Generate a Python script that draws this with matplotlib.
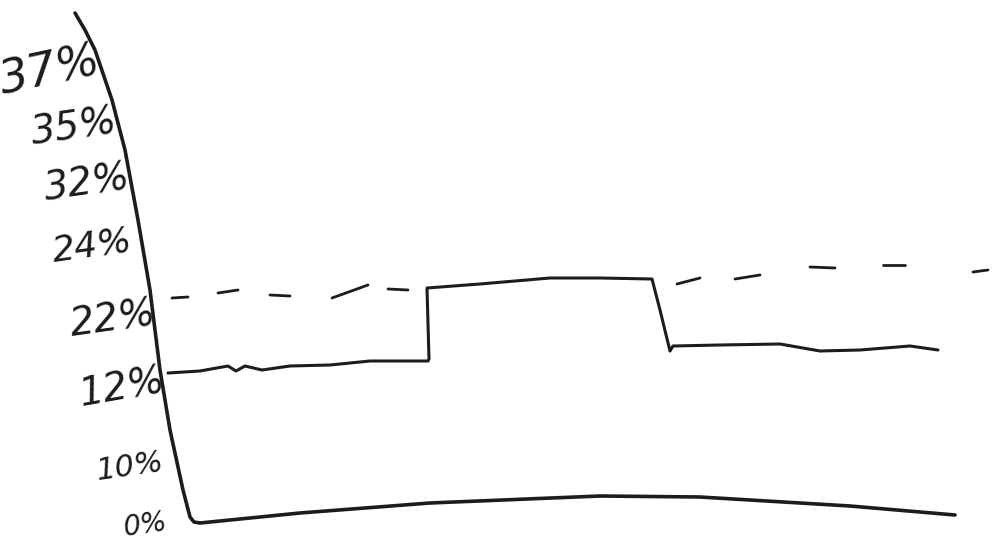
import matplotlib
matplotlib.use("Agg")
import matplotlib.pyplot as plt

# everything, in its own pixel coordinates
axis_x = [75, 85, 95, 112, 125, 138, 150, 160, 170, 183, 190, 194, 200, 300, 430, 600, 700, 850, 955]
axis_y = [13, 30, 50, 100, 150, 220, 290, 370, 430, 490, 517, 522, 523, 513, 503, 496, 497, 506, 515]

line_x = [168, 200, 228, 236, 245, 262, 290, 330, 370, 428, 429, 427, 480, 550, 600, 652, 660, 670, 673, 720, 780, 820, 860, 910, 938]
line_y = [373, 371, 366, 371, 366, 370, 366, 365, 361, 361, 359, 288, 284, 278, 278, 279, 310, 351, 346, 345, 344, 351, 350, 346, 350]

dash_x = [[172, 188], [218, 238], [270, 290], [332, 368], [388, 408], [677, 700], [735, 760], [810, 835], [883, 905], [973, 988]]
dash_y = [[298, 297], [293, 290], [295, 296], [298, 285], [289, 290], [284, 278], [279, 275], [267, 268], [265, 265], [272, 270]]

tick_labels = ["37%", "35%", "32%", "24%", "22%", "12%", "10%", "0%"]
tick_x = [50, 74, 87, 92, 113, 122, 130, 145]
tick_y = [72, 128, 184, 246, 320, 388, 467, 525]
tick_size = [33, 28, 28, 26, 28, 28, 22, 20]
tick_rot = [12, 8, 8, 8, 8, 10, 8, 8]

ink = "#1c1c1c"

fig = plt.figure(figsize=(10, 5.4), dpi=100)
ax = fig.add_axes([0, 0, 1, 1])
ax.set_xlim(0, 1000)
ax.set_ylim(540, 0)
ax.axis("off")

ax.plot(axis_x, axis_y, color=ink, linewidth=2.6, solid_capstyle="round", solid_joinstyle="round")
ax.plot(line_x, line_y, color=ink, linewidth=2.2, solid_capstyle="round", solid_joinstyle="round")

for xs, ys in zip(dash_x, dash_y):
    ax.plot(xs, ys, color=ink, linewidth=2, solid_capstyle="round")

for label, x, y, size, rot in zip(tick_labels, tick_x, tick_y, tick_size, tick_rot):
    ax.text(x, y, label, fontsize=size, rotation=rot, color=ink, ha="center", va="center", family="DejaVu Sans", fontstyle="italic")

fig.savefig("out.png", dpi=100)
